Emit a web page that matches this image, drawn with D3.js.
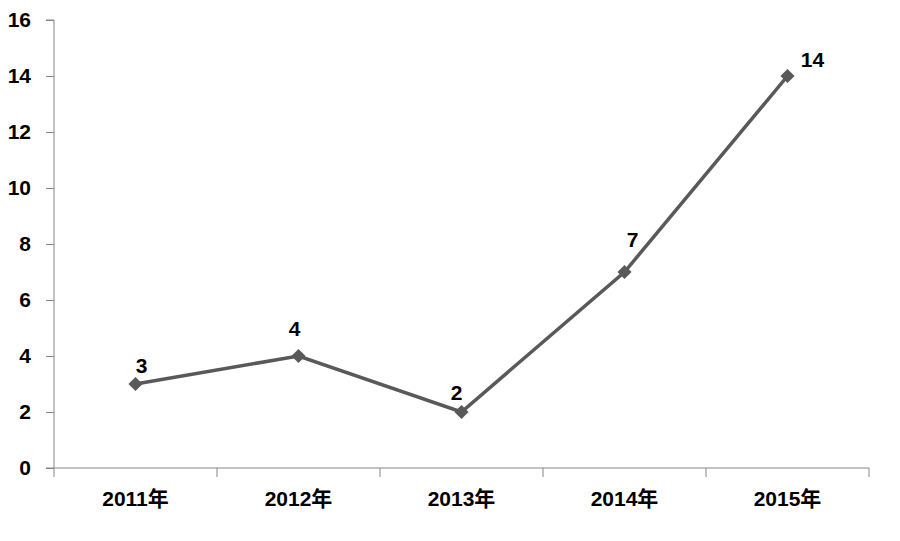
<!DOCTYPE html>
<html><head><meta charset="utf-8">
<script src="https://cdn.jsdelivr.net/npm/d3@7"></script>
<style>
html,body{margin:0;padding:0;background:#fff;}
text{font-family:"Liberation Sans","Noto Sans CJK SC",sans-serif;font-weight:bold;fill:#000;}
</style></head>
<body><svg id="c" width="900" height="541"></svg>
<script>
const categories = ["2011年","2012年","2013年","2014年","2015年"];
const values = [3, 4, 2, 7, 14];
const yTicks = [0, 2, 4, 6, 8, 10, 12, 14, 16];
// label offsets (style only), dx, dy relative to point
const labelOffsets = [[6,-19],[-4,-28],[-5,-20],[8,-33],[25,-17]];

(function(){
const svg = d3.select("#c");
const mLeft = 54, mRight = 869, mTop = 20, mBottom = 468;
const x = d3.scaleBand().domain(categories).range([mLeft, mRight]);
const y = d3.scaleLinear().domain([0, 16]).range([mBottom, mTop]);
const axisColor = "#868686";

const gy = svg.append("g").attr("transform", `translate(${mLeft},0)`)
  .call(d3.axisLeft(y).tickValues(yTicks).tickSize(8).tickPadding(15).tickFormat(d3.format("d")));
gy.select(".domain").attr("stroke", axisColor).attr("d", `M-8,${mTop}H0V${mBottom}H-8`);
gy.selectAll(".tick line").attr("stroke", axisColor);
gy.selectAll(".tick text").style("font-size", "21px").attr("fill", "#000");

const gx = svg.append("g").attr("transform", `translate(0,${mBottom})`)
  .call(d3.axisBottom(x).tickSize(0).tickPadding(23));
gx.select(".domain").attr("stroke", axisColor).attr("d", `M${mLeft},0H${mRight}`);
gx.selectAll(".tick text").style("font-size", "21px").attr("fill", "#000");
const bounds = categories.map(c => x(c)).concat([mRight]);
gx.selectAll(".bt").data(bounds).enter().append("line")
  .attr("x1", d => d).attr("x2", d => d).attr("y1", 0).attr("y2", 9).attr("stroke", axisColor);

const cx = (d, i) => x(categories[i]) + x.bandwidth() / 2;
const line = d3.line().x(cx).y(d => y(d));
svg.append("path").datum(values).attr("d", line)
  .attr("fill", "none").attr("stroke", "#595959").attr("stroke-width", 3.5);

svg.selectAll(".m").data(values).enter().append("path")
  .attr("d", d3.symbol().type(d3.symbolSquare).size(100))
  .attr("transform", (d, i) => `translate(${cx(d, i)},${y(d)}) rotate(45)`)
  .attr("fill", "#595959");

svg.selectAll(".lbl").data(values).enter().append("text")
  .attr("x", (d, i) => cx(d, i) + labelOffsets[i][0])
  .attr("y", (d, i) => y(d) + labelOffsets[i][1])
  .attr("text-anchor", "middle").attr("dominant-baseline", "central")
  .style("font-size", "21px").text(d => d);
})();
</script></body></html>
